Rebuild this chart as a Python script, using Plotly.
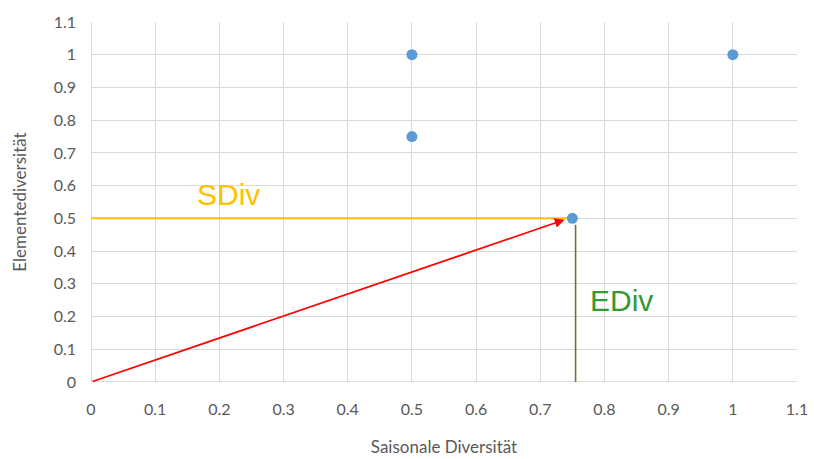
import plotly.graph_objects as go

# Diversity scores per item
saisonal = [0.5, 0.5, 0.75, 1.0]
element = [1.0, 0.75, 0.5, 1.0]

# Highlighted item and its component lines
focus_x = 0.75
focus_y = 0.5
ediv_x = 0.755

x_ticks = [round(i * 0.1, 1) for i in range(12)]
y_ticks = [round(i * 0.1, 1) for i in range(12)]
tick_labels = ["0", "0.1", "0.2", "0.3", "0.4", "0.5", "0.6", "0.7", "0.8", "0.9", "1", "1.1"]

font_family = "Lato, Open Sans, sans-serif"
label_family = "Liberation Sans, Arial, sans-serif"
tick_color = "#595959"

fig = go.Figure()

# SDiv: horizontal yellow line
fig.add_trace(go.Scatter(
    x=[0, focus_x], y=[focus_y, focus_y], mode="lines",
    line=dict(color="#FFC000", width=2), hoverinfo="skip", showlegend=False))

# EDiv: vertical green line
fig.add_trace(go.Scatter(
    x=[ediv_x, ediv_x], y=[0, focus_y - 0.02], mode="lines",
    line=dict(color="#548235", width=1.6), hoverinfo="skip", showlegend=False))

# Data points
fig.add_trace(go.Scatter(
    x=saisonal, y=element, mode="markers",
    marker=dict(color="#5B9BD5", size=11), showlegend=False))

# Red vector from the origin to the highlighted point
fig.add_annotation(
    x=focus_x - 0.012, y=focus_y - 0.004, ax=0, ay=0,
    xref="x", yref="y", axref="x", ayref="y",
    text="", showarrow=True, arrowhead=2, arrowsize=1.1,
    arrowwidth=1.8, arrowcolor="#FF0000")

fig.add_annotation(
    x=0.162, y=0.574, xref="x", yref="y", text="SDiv", showarrow=False,
    xanchor="left", yanchor="middle",
    font=dict(family=label_family, size=30, color="#FFC000"))

fig.add_annotation(
    x=0.775, y=0.249, xref="x", yref="y", text="EDiv", showarrow=False,
    xanchor="left", yanchor="middle",
    font=dict(family=label_family, size=30, color="#339933"))

axis_common = dict(
    showgrid=True, gridcolor="#D9D9D9", gridwidth=1,
    zeroline=False, showline=False, ticks="",
    tickfont=dict(family=font_family, size=16, color=tick_color),
)

fig.update_xaxes(
    range=[0, 1.1], tickvals=x_ticks, ticktext=tick_labels,
    ticklabelstandoff=16,
    title=dict(text="Saisonale Diversität", standoff=24,
               font=dict(family=font_family, size=17, color=tick_color)),
    **axis_common)
fig.update_yaxes(
    range=[0, 1.1], tickvals=y_ticks, ticktext=tick_labels,
    ticklabelstandoff=14,
    title=dict(text="Elementediversität", standoff=22,
               font=dict(family=font_family, size=17, color=tick_color)),
    **axis_common)

# Axis lines along the bottom and left edges
fig.add_shape(type="line", xref="x", yref="y", x0=0, x1=1.1, y0=0, y1=0,
              line=dict(color="#BFBFBF", width=1.2), layer="below")
fig.add_shape(type="line", xref="x", yref="y", x0=0, x1=0, y0=0, y1=1.1,
              line=dict(color="#BFBFBF", width=1.2), layer="below")

fig.update_layout(
    width=814, height=459,
    margin=dict(l=91, r=17, t=22, b=77, autoexpand=False),
    plot_bgcolor="white", paper_bgcolor="white",
    font=dict(family=font_family),
)

fig.write_html("out.html")
